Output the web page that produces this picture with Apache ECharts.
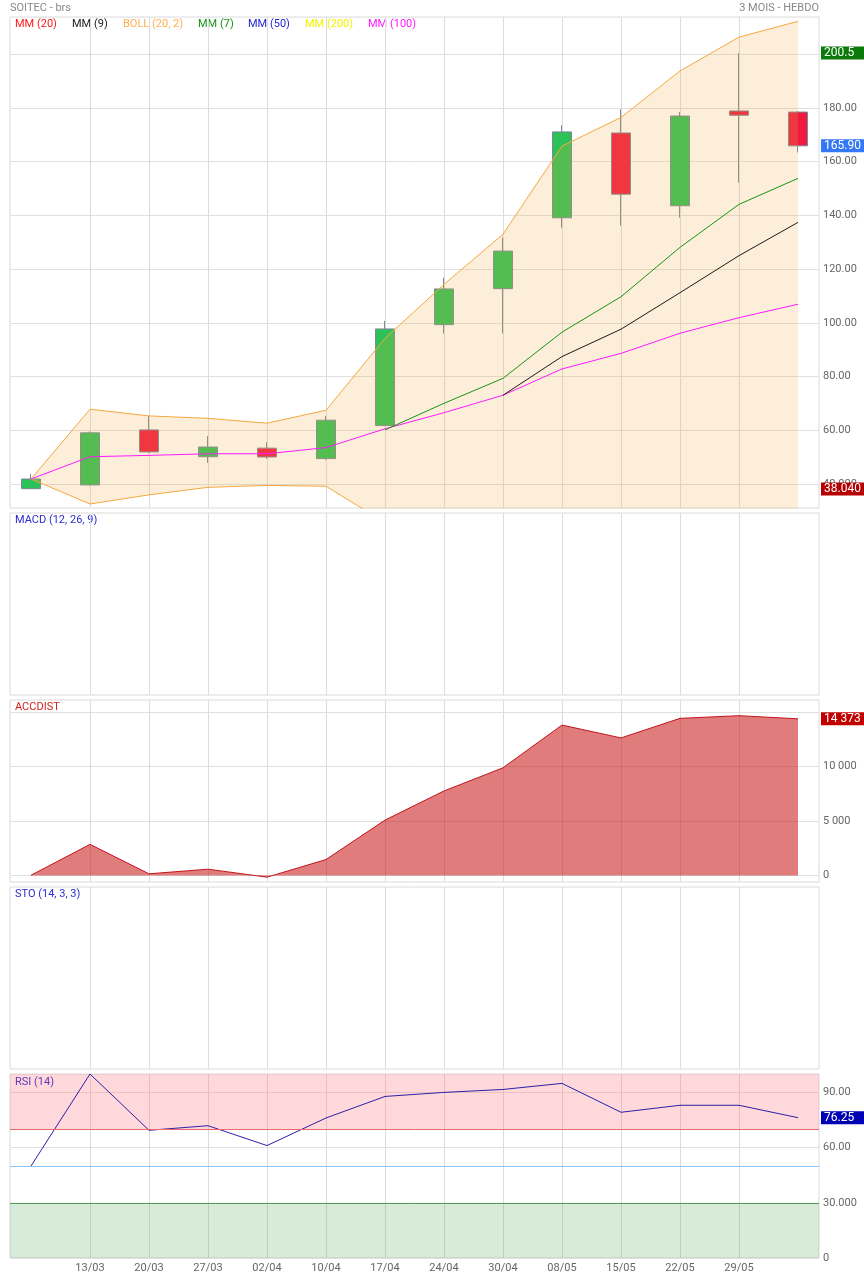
<!DOCTYPE html>
<html>
<head>
<meta charset="utf-8">
<title>SOITEC - brs</title>
<script src="https://cdn.jsdelivr.net/npm/echarts@6/dist/echarts.min.js"></script>
<style>
html, body { margin: 0; padding: 0; background: #fff; }
#chart { width: 864px; height: 1278px; }
</style>
</head>
<body>
<div id="chart"></div>
<script>
// weekly candles, 3 months
const dates = ['06/03','13/03','20/03','27/03','02/04','10/04','17/04','24/04','30/04','08/05','15/05','22/05','29/05','05/06'];
const open  = [38.2, 39.6, 60.1, 50.1, 53.3, 49.4, 61.7, 99.3, 112.7, 139.1, 170.7, 143.6, 178.9, 178.5];
const close = [41.8, 59.0, 51.9, 53.7, 50.0, 63.7, 97.7, 112.6, 126.7, 171.1, 147.9, 177.0, 177.3, 165.9];
const low   = [38.04, 39.4, 51.5, 47.8, 49.3, 48.9, 61.5, 96.0, 96.0, 135.4, 136.2, 139.1, 152.2, 163.4];
const high  = [43.7, 59.5, 65.3, 57.8, 55.5, 65.3, 100.7, 116.8, 131.7, 173.6, 179.5, 178.5, 200.5, 178.9];

// indicators
const bollUp  = [41.8, 67.8, 65.3, 64.4, 62.6, 67.4, 94.2, 114.3, 133.0, 165.8, 176.5, 193.8, 206.4, 212.3];
const bollLow = [41.8, 32.5, 35.9, 38.7, 39.4, 39.1, 25.6, 20.0, 16.0, 13.0, 15.0, 18.0, 22.0, 26.0];
const mm7   = [null, null, null, null, null, null, 60.1, 70.0, 79.3, 96.5, 109.7, 128.1, 144.1, 153.8];
const mm9   = [null, null, null, null, null, null, null, null, 73.0, 87.4, 97.6, 111.2, 125.0, 137.4];
const mm100 = [41.8, 50.1, 50.6, 51.2, 51.2, 53.5, 60.5, 66.5, 73.0, 82.8, 88.6, 96.1, 101.9, 106.9];
const accdist = [20, 2855, 150, 575, -155, 1460, 5080, 7755, 9880, 13800, 12620, 14415, 14660, 14373];
const rsi = [50.0, 100, 69.4, 71.9, 61.1, 76.1, 87.8, 90.0, 91.6, 94.9, 79.2, 83.0, 83.0, 76.25];

// axis ticks
const priceTicks = [40, 60, 80, 100, 120, 140, 160, 180, 200];
const priceLabels = [40, 60, 80, 100, 120, 140, 160, 180];
const accTicks = [0, 5000, 10000, 15000];
const accLabels = [0, 5000, 10000];
const rsiTicks = [0, 30, 60, 90];
const rsiLabelText = {0: '0', 30: '30.000', 60: '60.00', 90: '90.00'};

const legendItems = [
  ['MM (20)', '#ff1a1a', 15], ['MM (9)', '#222222', 72], ['BOLL (20, 2)', '#ffb04d', 123],
  ['MM (7)', '#169416', 198], ['MM (50)', '#2525d8', 248], ['MM (200)', '#f2f200', 305], ['MM (100)', '#ff1aff', 368]
];

const font = 'Roboto, "Noto Sans", sans-serif';
const chart = echarts.init(document.getElementById('chart'));

function spaced(v) {
  return String(v).replace(/\B(?=(\d{3})+(?!\d))/g, ' ');
}

// panels: main, MACD, ACCDIST, STO, RSI
const panels = [
  {top: 17, height: 491, min: 31, max: 213.9},
  {top: 513, height: 182, min: 0, max: 1},
  {top: 700, height: 182, min: -600, max: 16100},
  {top: 887, height: 182, min: 0, max: 1},
  {top: 1074, height: 184, min: 0, max: 100}
];

const grids = [], xAxes = [], yAxes = [];
panels.forEach(function (p, k) {
  grids.push({left: 10, width: 809, top: p.top, height: p.height, show: true,
    borderColor: '#dadada', borderWidth: 1, backgroundColor: 'transparent'});
  grids.push({left: 31, width: 767, top: p.top, height: p.height});

  xAxes.push({gridIndex: 2 * k, type: 'value', min: 0, max: 1, show: false});
  xAxes.push({
    gridIndex: 2 * k + 1, type: 'category', data: dates, boundaryGap: false,
    axisLine: {show: false}, axisTick: {show: false},
    axisLabel: k === 4 ? {
      interval: function (i) { return i >= 1 && i <= 12; },
      color: '#666', fontSize: 11, fontFamily: font, margin: 5
    } : {show: false},
    splitLine: {show: true, interval: function (i) { return i >= 1 && i <= 12; },
      lineStyle: {color: '#dcdcdc', width: 1}}
  });

  let outerY = {gridIndex: 2 * k, type: 'value', min: p.min, max: p.max, show: false};
  if (k === 0 || k === 2 || k === 4) {
    let ticks = k === 0 ? priceTicks : (k === 2 ? accTicks : rsiTicks);
    let labels = k === 0 ? priceLabels : (k === 2 ? accLabels : rsiTicks);
    outerY = {
      gridIndex: 2 * k, type: 'value', min: p.min, max: p.max, position: 'right',
      axisLine: {show: false},
      axisTick: {show: false, customValues: ticks},
      axisLabel: {
        customValues: labels, color: '#666', fontSize: 11, fontFamily: font, margin: 4,
        formatter: function (v) {
          if (k === 0) return v === 40 ? '40.000' : v.toFixed(2);
          if (k === 2) return spaced(v);
          return rsiLabelText[v];
        }
      },
      splitLine: {show: true, lineStyle: {color: '#e0e0e0', width: 1}}
    };
  }
  yAxes.push(outerY);
  yAxes.push({gridIndex: 2 * k + 1, type: 'value', min: p.min, max: p.max, show: false});
});

// value tag on the right edge of a panel
function badge(value, text, bg) {
  return {
    yAxis: value,
    lineStyle: {color: 'rgba(0,0,0,0)', width: 1},
    label: {show: true, position: 'end', distance: 2, formatter: text, width: 38,
      backgroundColor: bg, color: '#fff', fontSize: 12, fontFamily: font, padding: [1, 3, 0, 3]}
  };
}

const candleData = open.map(function (o, i) { return [o, close[i], low[i], high[i]]; });
const bandData = bollUp.map(function (u, i) { return +(u - bollLow[i]).toFixed(2); });
const hi = Math.max.apply(null, high);
const lo = Math.min.apply(null, low);
const last = close[close.length - 1];
const lastAcc = accdist[accdist.length - 1];
const lastRsi = rsi[rsi.length - 1];

const series = [
  {
    type: 'candlestick', xAxisIndex: 1, yAxisIndex: 1, data: candleData, barWidth: 19,
    itemStyle: {color: '#2cc257', color0: '#ef1a3f', borderColor: '#7b8896', borderColor0: '#7b8896', borderWidth: 1}
  },
  {
    name: 'bollLow', type: 'line', xAxisIndex: 1, yAxisIndex: 1, data: bollLow, stack: 'boll',
    symbol: 'none', lineStyle: {color: '#f5a840', width: 1}
  },
  {
    name: 'bollBand', type: 'line', xAxisIndex: 1, yAxisIndex: 1, data: bandData, stack: 'boll',
    symbol: 'none', lineStyle: {color: '#f5a840', width: 1},
    areaStyle: {color: 'rgba(245,168,64,0.2)', opacity: 1}
  },
  {type: 'line', xAxisIndex: 1, yAxisIndex: 1, data: mm100, symbol: 'none', lineStyle: {color: '#ff1aff', width: 1}},
  {type: 'line', xAxisIndex: 1, yAxisIndex: 1, data: mm9, symbol: 'none', lineStyle: {color: '#1a1a1a', width: 1}},
  {type: 'line', xAxisIndex: 1, yAxisIndex: 1, data: mm7, symbol: 'none', lineStyle: {color: '#169416', width: 1}},
  {
    type: 'line', xAxisIndex: 0, yAxisIndex: 0, data: [], symbol: 'none', z: 5,
    markLine: {silent: true, symbol: 'none', animation: false, data: [
      badge(hi, String(hi), '#0b7a0b'),
      badge(last, last.toFixed(2), '#3478f6'),
      badge(lo, lo.toFixed(3), '#b40000')
    ]}
  },
  {
    type: 'line', xAxisIndex: 5, yAxisIndex: 5, data: accdist, symbol: 'none',
    lineStyle: {color: '#c3141c', width: 1}, areaStyle: {color: 'rgba(200,22,22,0.56)', opacity: 1}
  },
  {
    type: 'line', xAxisIndex: 4, yAxisIndex: 4, data: [], symbol: 'none', z: 5,
    markLine: {silent: true, symbol: 'none', animation: false, data: [
      badge(lastAcc, spaced(lastAcc), '#c00000')
    ]}
  },
  {
    type: 'line', xAxisIndex: 8, yAxisIndex: 8, data: [], symbol: 'none',
    markArea: {silent: true, animation: false, data: [
      [{yAxis: 70, itemStyle: {color: 'rgba(255,100,110,0.25)'}}, {yAxis: 100}],
      [{yAxis: 0, itemStyle: {color: 'rgba(60,150,60,0.2)'}}, {yAxis: 30}]
    ]},
    markLine: {silent: true, symbol: 'none', animation: false, label: {show: false}, data: [
      {yAxis: 70, lineStyle: {color: '#e86a6a', width: 1, type: 'solid'}},
      {yAxis: 50, lineStyle: {color: '#8fc6f7', width: 1, type: 'solid'}},
      {yAxis: 30, lineStyle: {color: '#5a995a', width: 1, type: 'solid'}}
    ]}
  },
  {
    type: 'line', xAxisIndex: 9, yAxisIndex: 9, data: rsi, symbol: 'none',
    lineStyle: {color: '#2a20a8', width: 1}
  },
  {
    type: 'line', xAxisIndex: 8, yAxisIndex: 8, data: [], symbol: 'none', z: 5,
    markLine: {silent: true, symbol: 'none', animation: false, data: [
      badge(lastRsi, lastRsi.toFixed(2), '#0000b4')
    ]}
  }
];

const graphics = [
  {type: 'text', left: 10, top: 3, style: {text: 'SOITEC - brs', fill: '#888', font: '11px ' + font}},
  {type: 'text', right: 45, top: 3, style: {text: '3 MOIS - HEBDO', fill: '#888', font: '11px ' + font}},
  {type: 'text', left: 15, top: 515, style: {text: 'MACD (12, 26, 9)', fill: '#2b2bd4', font: '11px ' + font}},
  {type: 'text', left: 15, top: 702, style: {text: 'ACCDIST', fill: '#d42020', font: '11px ' + font}},
  {type: 'text', left: 15, top: 889, style: {text: 'STO (14, 3, 3)', fill: '#2b2bd4', font: '11px ' + font}},
  {type: 'text', left: 15, top: 1077, style: {text: 'RSI (14)', fill: '#2b2bd4', font: '11px ' + font}}
];
legendItems.forEach(function (it) {
  graphics.push({type: 'text', left: it[2], top: 19, style: {text: it[0], fill: it[1], font: '11px ' + font}});
});

chart.setOption({
  animation: false,
  backgroundColor: '#fff',
  textStyle: {fontFamily: font},
  grid: grids,
  xAxis: xAxes,
  yAxis: yAxes,
  series: series,
  graphic: graphics
});
</script>
</body>
</html>
